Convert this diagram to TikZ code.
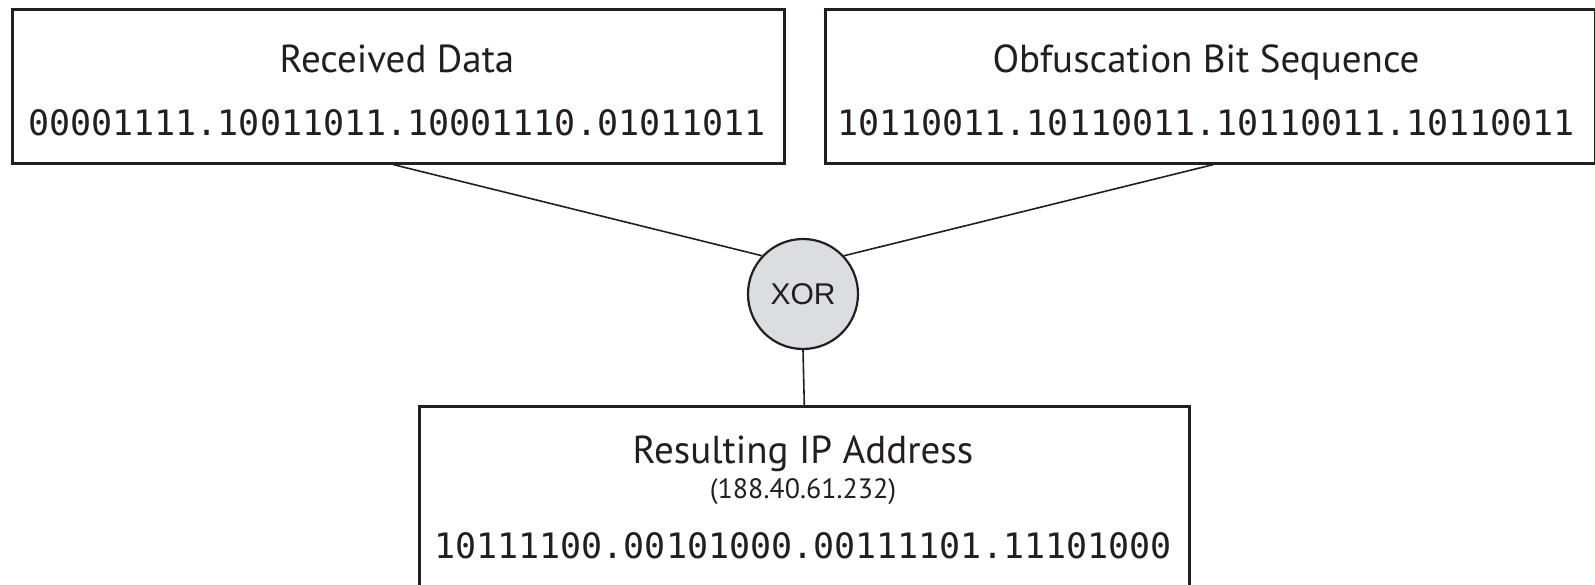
\documentclass[tikz,border=0pt]{standalone}
\usepackage{fontspec}
\setmainfont{PT Sans}
\newfontfamily\bitfont{DejaVu Sans Mono}
\newfontfamily\xorfont{Liberation Sans}
\definecolor{linec}{RGB}{35,31,32}
\definecolor{xorfill}{RGB}{220,221,224}
\begin{document}
\begin{tikzpicture}[x=1pt,y=-1pt,
  databox/.style={draw=linec, line width=2.6pt, anchor=north west, inner sep=0pt},
  titletext/.style={anchor=base, text=linec, inner sep=0pt, font=\fontsize{39}{39}\selectfont},
  bitstext/.style={anchor=base, text=linec, inner sep=0pt, font=\bitfont\fontsize{35}{35}\selectfont},
  smalltext/.style={anchor=base, text=linec, inner sep=0pt, font=\fontsize{28}{28}\selectfont},
  xornode/.style={circle, draw=linec, line width=2.2pt, fill=xorfill, minimum size=110pt, inner sep=0pt, text=linec, font=\xorfont\fontsize{30}{30}\selectfont},
  conn/.style={draw=linec, line width=1.6pt}]
\useasboundingbox (0,0) rectangle (1595,584);
\fill[white] (0,0) rectangle (1595,584);
% boxes
\node[databox, minimum width=772pt, minimum height=154pt] (recv) at (11,8) {};
\node[databox, minimum width=770pt, minimum height=154pt] (obf) at (824,8) {};
\node[databox, minimum width=770pt, minimum height=240pt] (res) at (418,405) {};
% texts
\node[titletext] (recvt) at (397,72) {Received Data};
\node[bitstext] (recvb) at (397,135) {00001111.10011011.10001110.01011011};
\node[titletext] (obft) at (1206,72) {Obfuscation Bit Sequence};
\node[bitstext] (obfb) at (1206,135) {10110011.10110011.10110011.10110011};
\node[titletext] (rest) at (803,463) {Resulting IP Address};
\node[smalltext] (resip) at (803,498) {(188.40.61.232)};
\node[bitstext] (resb) at (803,558) {10111100.00101000.00111101.11101000};
% XOR
\node[xornode] (xor) at (803,294) {XOR};
% connectors
\draw[conn] ([xshift=-5pt]recv.south) -- (xor.137);
\draw[conn] ([xshift=3pt]obf.south) -- (xor.43);
\draw[conn] (xor.south) -- (res.north);
\end{tikzpicture}
\end{document}
